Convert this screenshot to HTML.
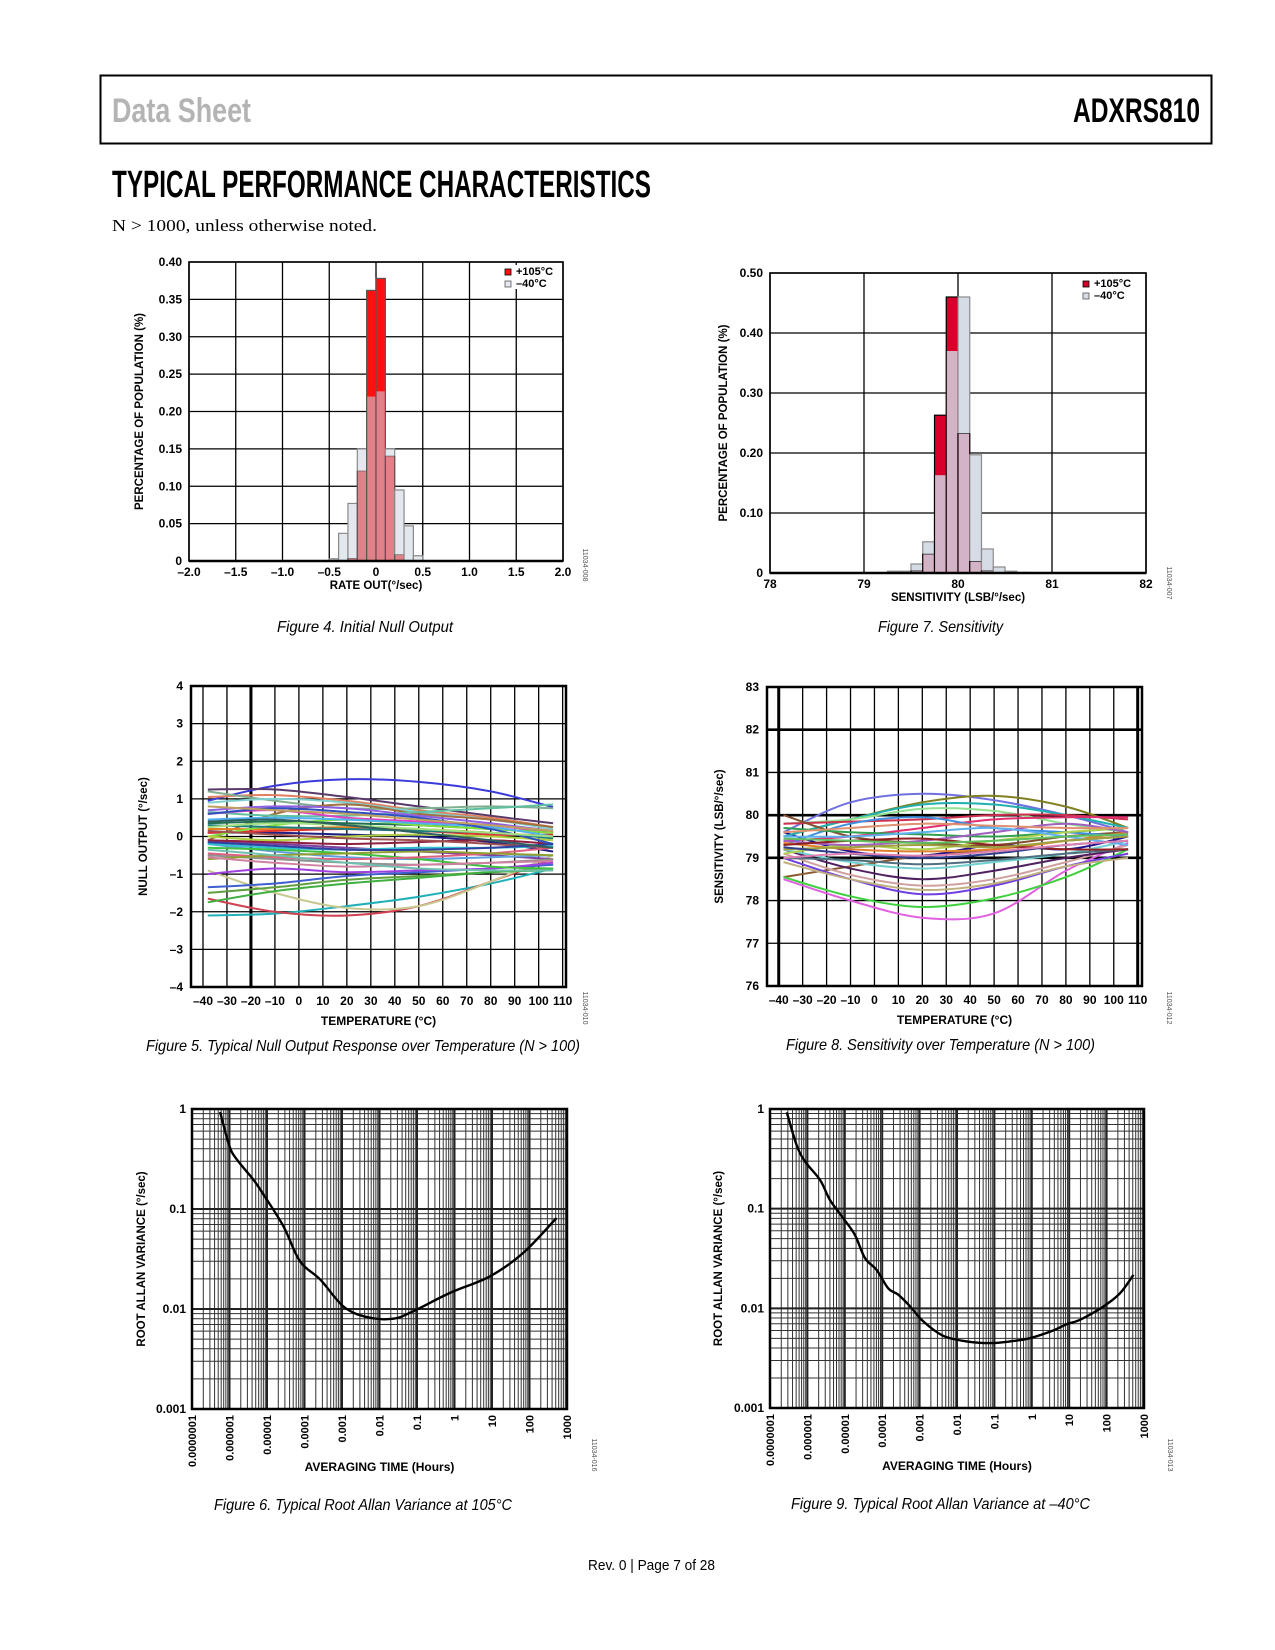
<!DOCTYPE html>
<html><head><meta charset="utf-8"><style>
html,body{margin:0;padding:0;background:#fff}
svg{display:block}
.ax{font-family:"Liberation Sans",Arial,sans-serif;font-weight:bold;fill:#000}
.cap{font-family:"Liberation Sans Narrow","Liberation Sans",sans-serif;font-style:italic;fill:#000}
.hd{font-family:"Liberation Sans Narrow","Liberation Sans",sans-serif;font-weight:bold}
</style></head><body>
<svg id="pg" xmlns="http://www.w3.org/2000/svg" width="1275" height="1650" viewBox="0 0 1275 1650">
<rect x="100.5" y="75.5" width="1111" height="68" fill="none" stroke="#000" stroke-width="2"/>
<text class="hd" x="112" y="122" font-size="34" fill="#b4b4b4" textLength="139" lengthAdjust="spacingAndGlyphs">Data Sheet</text>
<text class="hd" x="1073" y="122" font-size="34" fill="#000" textLength="127" lengthAdjust="spacingAndGlyphs">ADXRS810</text>
<text class="hd" x="112" y="197" font-size="38" fill="#000" textLength="539" lengthAdjust="spacingAndGlyphs">TYPICAL PERFORMANCE CHARACTERISTICS</text>
<text x="112" y="231" font-family="'Liberation Serif',serif" font-size="17" textLength="265" lengthAdjust="spacingAndGlyphs">N &gt; 1000, unless otherwise noted.</text>

<text class="cap" x="277" y="632" font-size="16" textLength="176" lengthAdjust="spacingAndGlyphs">Figure 4. Initial Null Output</text>
<text class="cap" x="878" y="632" font-size="16" textLength="125" lengthAdjust="spacingAndGlyphs">Figure 7. Sensitivity</text>
<text class="cap" x="146" y="1051" font-size="16" textLength="434" lengthAdjust="spacingAndGlyphs">Figure 5. Typical Null Output Response over Temperature (N &gt; 100)</text>
<text class="cap" x="786" y="1050" font-size="16" textLength="309" lengthAdjust="spacingAndGlyphs">Figure 8. Sensitivity over Temperature (N &gt; 100)</text>
<text class="cap" x="214" y="1510" font-size="16" textLength="298" lengthAdjust="spacingAndGlyphs">Figure 6. Typical Root Allan Variance at 105°C</text>
<text class="cap" x="791" y="1509" font-size="16" textLength="299" lengthAdjust="spacingAndGlyphs">Figure 9. Typical Root Allan Variance at –40°C</text>
<text x="588" y="1570" font-family="'Liberation Sans Narrow','Liberation Sans',sans-serif" font-size="15" textLength="127" lengthAdjust="spacingAndGlyphs">Rev. 0 | Page 7 of 28</text>
</svg>
<script>
// ===== Figure 4 data =====
const f4Bins = [-0.5,-0.4,-0.3,-0.2,-0.1,0,0.1,0.2,0.3,0.4];
const f4Hot = [0,0,0.003,0.12,0.362,0.378,0.14,0.008,0,0];
const f4Cold = [0.003,0.037,0.077,0.15,0.22,0.227,0.15,0.095,0.047,0.007];
const f4XTicks = ["–2.0","–1.5","–1.0","–0.5","0","0.5","1.0","1.5","2.0"];
const f4YTicks = ["0","0.05","0.10","0.15","0.20","0.25","0.30","0.35","0.40"];
// ===== Figure 7 data =====
const f7Bins = [79.25,79.375,79.5,79.625,79.75,79.875,80,80.125,80.25,80.375,80.5,80.625];
const f7Hot = [0,0,0.003,0.031,0.263,0.46,0.232,0.019,0.003,0,0,0];
const f7Cold = [0.003,0.003,0.015,0.052,0.163,0.37,0.46,0.197,0.04,0.01,0.003,0.001];
const f7XTicks = ["78","79","80","81","82"];
const f7YTicks = ["0","0.10","0.20","0.30","0.40","0.50"];
// ===== Figure 5 data =====
const tempPts = [-38,-10,20,50,80,106];
const tempTicks = ["–40","–30","–20","–10","0","10","20","30","40","50","60","70","80","90","100","110"];
const f5YTicks = ["–4","–3","–2","–1","0","1","2","3","4"];
const f5Colors = ["#3b3bdb","#5a3a6a","#20b0b8","#d04050","#c8c890","#4060d0","#60a040","#40b040","#a040e0","#e08060","#80b090","#80d0d0","#a07040","#60c0a0","#202080","#e040c0","#207050","#e08020","#e03030","#80e040","#8040a0","#60a0e0","#40c040","#e06080","#909090","#30c0d0","#208080","#9060e0","#90a030","#902040","#50b0f0","#b0d040","#d080a0","#3050c0","#70c0b0","#a05050","#a0e080","#3040a0","#c0a060","#306060"];
const f5Series = [
[0.95,1.35,1.52,1.45,1.2,0.78],[1.25,1.25,1.05,0.8,0.55,0.35],[-2.1,-2.05,-1.85,-1.6,-1.25,-0.85],
[-1.65,-2.0,-2.1,-1.85,-1.2,-0.6],[-0.9,-1.5,-1.9,-1.85,-1.2,-0.5],[-1.35,-1.25,-1.05,-0.95,-0.85,-0.75],
[-1.5,-1.35,-1.15,-1.05,-0.95,-0.85],[-1.75,-1.45,-1.25,-1.1,-0.95,-0.9],[-1.0,-0.85,-0.95,-0.9,-0.85,-0.7],
[1.05,1.1,0.95,0.7,0.5,0.25],[1.2,0.95,0.75,0.75,0.8,0.75],[0.9,1.0,0.9,0.65,0.45,0.2],
[-0.1,0.6,0.85,0.6,0.45,0.25],[0.65,0.55,0.55,0.65,0.75,0.85],[0.1,0.1,0.05,0.0,-0.15,-0.4],
[0.6,0.7,0.5,0.4,0.3,0.1],[0.35,0.4,0.35,0.3,0.2,0.1],[0.2,0.2,0.25,0.2,0.1,0.0],
[0.1,0.15,0.2,0.15,0.05,0.05],[0.0,0.3,0.45,0.3,0.2,0.1],[-0.15,-0.2,-0.3,-0.4,-0.5,-0.6],
[-0.2,-0.4,-0.55,-0.6,-0.55,-0.5],[-0.3,-0.35,-0.45,-0.6,-0.8,-0.85],[-0.45,-0.55,-0.6,-0.55,-0.45,-0.3],
[-0.5,-0.6,-0.7,-0.75,-0.7,-0.6],[-0.2,-0.3,-0.35,-0.3,-0.3,-0.25],[0.3,0.25,0.2,0.15,0.1,-0.05],
[0.7,0.8,0.75,0.55,0.35,0.15],[-0.6,-0.5,-0.45,-0.4,-0.45,-0.5],[-0.1,-0.15,-0.2,-0.15,-0.1,-0.2],
[0.45,0.5,0.45,0.35,0.25,0.0],[0.0,-0.1,0.0,0.05,0.0,-0.1],[-0.55,-0.7,-0.8,-0.75,-0.7,-0.65],
[0.6,0.75,0.65,0.5,0.2,-0.2],[-0.35,-0.5,-0.7,-0.85,-0.9,-0.9],[0.15,0.05,-0.05,-0.1,-0.2,-0.3],
[0.25,0.35,0.3,0.2,0.1,0.0],[-0.15,-0.25,-0.35,-0.35,-0.3,-0.2],[0.8,0.7,0.6,0.45,0.3,0.15],
[0.4,0.45,0.3,0.1,-0.1,-0.3]];
// ===== Figure 8 data =====
const f8YTicks = ["76","77","78","79","80","81","82","83"];
const f8Colors = ["#7070e0","#808020","#8a5a30","#e060e0","#40d040","#7040e0","#c0b080","#d0a0a0","#502060","#201090","#20b0b0","#90e090","#d03050","#e03070","#805030","#4090e0","#70d0d0","#507080","#e08030","#30a050","#b0d050","#a060c0","#902020","#60b0f0","#a0a040","#304090","#e09070","#60c060","#e080b0"];
const f8Series = [
[79.6,80.3,80.5,80.35,80.0,79.6],[79.5,79.9,80.3,80.45,80.2,79.7],[78.55,78.8,79.05,79.2,79.4,79.5],
[78.5,78.0,77.6,77.7,78.7,79.35],[78.55,78.1,77.85,78.05,78.55,79.2],[79.0,78.5,78.15,78.35,78.8,79.1],
[78.9,78.5,78.25,78.4,78.8,79.0],[79.1,78.6,78.35,78.5,78.9,79.3],[79.2,78.75,78.5,78.7,79.0,79.2],
[79.6,79.15,79.05,79.3,79.2,79.5],[79.5,79.9,80.25,80.25,80.0,79.7],[79.8,79.9,80.15,80.1,79.8,79.6],
[79.8,79.85,79.9,80.0,80.0,79.9],[79.4,79.5,79.7,79.9,79.95,79.95],[80.0,79.5,79.35,79.3,79.5,79.6],
[79.3,79.8,79.95,79.7,79.6,79.5],[79.2,78.9,78.75,78.9,79.1,79.4],[79.0,78.95,78.85,78.95,79.1,79.2],
[79.35,79.2,79.15,79.2,79.4,79.6],[79.7,79.6,79.55,79.5,79.6,79.7],[79.1,79.3,79.2,79.4,79.6,79.7],
[79.4,79.3,79.4,79.6,79.8,79.6],[79.3,79.4,79.45,79.3,79.2,79.2],[79.5,79.5,79.6,79.7,79.5,79.3],
[79.2,79.25,79.3,79.25,79.4,79.5],[79.25,79.1,79.0,79.1,79.3,79.4],[79.6,79.7,79.8,79.75,79.7,79.7],
[79.45,79.4,79.35,79.4,79.5,79.55],[79.0,79.1,79.05,79.15,79.3,79.4]];
// ===== Figure 6 / 9 data (log10 hours, deg/sec) =====
const f6LogT = [-6.25,-6.0,-5.8,-5.36,-5.09,-4.56,-4.12,-3.58,-2.96,-2.34,-1.63,-1.1,-0.12,0.94,1.83,2.72];
const f6Var = [0.933,0.424,0.311,0.196,0.139,0.067,0.030,0.0197,0.0106,0.0083,0.0080,0.0095,0.0145,0.0212,0.0363,0.0813];
const f9LogT = [-6.55,-6.29,-6.06,-5.66,-5.4,-5.04,-4.73,-4.46,-4.15,-3.84,-3.57,-3.26,-2.9,-2.37,-1.74,-1.12,-0.58,-0.05,0.58,0.93,1.29,1.91,2.36,2.72];
const f9Var = [0.926,0.435,0.296,0.194,0.123,0.080,0.0546,0.0319,0.0243,0.0159,0.0137,0.0105,0.0074,0.0053,0.00466,0.00448,0.00466,0.00502,0.006,0.00693,0.00767,0.0104,0.0142,0.0217];
const allanXTicks = ["0.0000001","0.000001","0.00001","0.0001","0.001","0.01","0.1","1","10","100","1000"];
const allanYTicks = ["0.001","0.01","0.1","1"];

const NS = "http://www.w3.org/2000/svg";
const pg = document.getElementById("pg");
function mk(tag, attrs, parent){const e=document.createElementNS(NS,tag);for(const k in attrs)e.setAttribute(k,attrs[k]);(parent||pg).appendChild(e);return e;}
function lin(d0,d1,r0,r1){return v=>r0+(v-d0)*(r1-r0)/(d1-d0);}
function smooth(pts){let d="M"+pts[0][0]+","+pts[0][1];for(let i=0;i<pts.length-1;i++){const p0=pts[i-1]||pts[i],p1=pts[i],p2=pts[i+1],p3=pts[i+2]||p2;const c1=[p1[0]+(p2[0]-p0[0])/6,p1[1]+(p2[1]-p0[1])/6],c2=[p2[0]-(p3[0]-p1[0])/6,p2[1]-(p3[1]-p1[1])/6];d+=" C"+c1+" "+c2+" "+p2;}return d;}
function label(g,x,y,txt,size,anchor,name,rot){const t=mk("text",{x:x,y:y,"font-size":size,"text-anchor":anchor||"middle",class:"ax"},g);if(rot)t.setAttribute("transform","rotate("+rot+" "+x+" "+y+")");t.textContent=txt;


return t;}
function figId(x,y,txt){const t=mk("text",{x:x,y:y,"font-size":7,"text-anchor":"middle",fill:"#555","font-family":"Liberation Sans, sans-serif",transform:"rotate(90 "+x+" "+y+")"});t.textContent=txt;

}

// ===== Histogram =====
function hist(P,xd,yd,bins,w,hot,cold,cols,xt,yt,xTitle,yTitle,leg,gname){
  const g=mk("g",{});
  
  
  const X=lin(xd[0],xd[1],P.x0,P.x1),Y=lin(yd[0],yd[1],P.y1,P.y0);
  xt.forEach((t,i)=>{const x=P.x0+i*(P.x1-P.x0)/(xt.length-1);const l=mk("line",{x1:x,x2:x,y1:P.y0,y2:P.y1,stroke:"#000","stroke-width":1.3},g);
    
    
    label(g,x,P.y1+15,t,12,"middle","x-tick-label");});
  yt.forEach((t,i)=>{const y=P.y1-i*(P.y1-P.y0)/(yt.length-1);const l=mk("line",{x1:P.x0,x2:P.x1,y1:y,y2:y,stroke:"#000","stroke-width":1.3},g);
    
    
    label(g,P.x0-7,y+4,t,12,"end","y-tick-label");});
  bins.forEach((b,i)=>{const x=X(b),bw=X(b+w)-X(b);const h=hot[i],c=cold[i];
    if(c>0){const r=mk("rect",{x:x,y:Y(c),width:bw,height:Y(0)-Y(c),fill:cols.cold,stroke:"#8a8a8a","stroke-width":1.2},g);
      
      }
    if(h>0){const r=mk("rect",{x:x,y:Y(h),width:bw,height:Y(0)-Y(h),fill:cols.hot,stroke:cols.hotStroke,"stroke-width":1.2},g);
      
      }
    const m=Math.min(h,c);if(m>0){const r=mk("rect",{x:x+0.6,y:Y(m),width:bw-1.2,height:Y(0)-Y(m),fill:cols.both},g);
      
      }
  });
  const fr=mk("rect",{x:P.x0,y:P.y0,width:P.x1-P.x0,height:P.y1-P.y0,fill:"none",stroke:"#000","stroke-width":1.6},g);
  
  
  mk("line",{x1:P.x0,x2:P.x1,y1:P.y1,y2:P.y1,stroke:"#000","stroke-width":2.5},g);
  const lg=mk("g",{},g);
  
  
  mk("rect",{x:leg.x-3,y:leg.y-10,width:60,height:24,fill:"#fff"},lg);
  const s1=mk("rect",{x:leg.x,y:leg.y-6,width:6,height:6,fill:cols.hot,stroke:"#000","stroke-width":0.8},lg);
  
  
  label(lg,leg.x+11,leg.y,"+105°C",11,"start","legend-entry-105c");
  const s2=mk("rect",{x:leg.x,y:leg.y+6,width:6,height:6,fill:cols.cold,stroke:"#555","stroke-width":0.8},lg);
  
  
  label(lg,leg.x+11,leg.y+12,"–40°C",11,"start","legend-entry-minus40c");
  label(g,(P.x0+P.x1)/2+xTitle[1],P.y1+28,xTitle[0],11.5,"middle","x-axis-title");
  label(g,yTitle[1],(P.y0+P.y1)/2,yTitle[0],11.5,"middle","y-axis-title",-90);
}
hist({x0:189,x1:563,y0:262,y1:561},[-2,2],[0,0.4],f4Bins,0.1,f4Hot,f4Cold,{hot:"#ff1010",hotStroke:"#555",cold:"#e3e7ee",both:"#e08088"},f4XTicks,f4YTicks,["RATE OUT(°/sec)",0],["PERCENTAGE OF POPULATION (%)",143],{x:505,y:275},"figure-4-histogram");
figId(583,565,"11034-008");
hist({x0:770,x1:1146,y0:273,y1:573},[78,82],[0,0.5],f7Bins,0.125,f7Hot,f7Cold,{hot:"#d8002a",hotStroke:"#000",cold:"#d6dce6",both:"#d3b3c6"},f7XTicks,f7YTicks,["SENSITIVITY (LSB/°/sec)",0],["PERCENTAGE OF POPULATION (%)",727],{x:1083,y:287},"figure-7-histogram");
figId(1167,583,"11034-007");

// ===== Temperature line charts =====
function tempChart(P,xd,yd,yt,y0v,series,colors,yTitle,gname,thickX,thickY,titleX){
  const g=mk("g",{});
  
  
  const X=lin(xd[0],xd[1],P.x0,P.x1),Y=lin(yd[0],yd[1],P.y1,P.y0);
  tempTicks.forEach((t,i)=>{const v=-40+i*10,x=X(v);const l=mk("line",{x1:x,x2:x,y1:P.y0,y2:P.y1,stroke:"#000","stroke-width":thickX.includes(v)?3:1.3},g);
    
    
    label(g,x,P.y1+18,t,12,"middle","x-tick-label");});
  yt.forEach((t,i)=>{const v=y0v+i,y=Y(v);const l=mk("line",{x1:P.x0,x2:P.x1,y1:y,y2:y,stroke:"#000","stroke-width":thickY.includes(v)?2.6:1.3},g);
    
    
    label(g,P.x0-8,y+4,t,12,"end","y-tick-label");});
  series.forEach((s,k)=>{const pts=s.map((v,i)=>[+X(tempPts[i]).toFixed(1),+Y(v).toFixed(1)]);
    const p=mk("path",{d:smooth(pts),fill:"none",stroke:colors[k%colors.length],"stroke-width":2},g);
    
    });
  const fr=mk("rect",{x:P.x0,y:P.y0,width:P.x1-P.x0,height:P.y1-P.y0,fill:"none",stroke:"#000","stroke-width":2.5},g);
  
  
  label(g,(P.x0+P.x1)/2+titleX,P.y1+38,"TEMPERATURE (°C)",12,"middle","x-axis-title");
  label(g,yTitle[1],(P.y0+P.y1)/2,yTitle[0],11.5,"middle","y-axis-title",-90);
}
tempChart({x0:191,x1:566,y0:686,y1:987},[-45,111.4],[-4,4],f5YTicks,-4,f5Series,f5Colors,["NULL OUTPUT (°/sec)",147],"figure-5-null-vs-temp",[-20],[],0);
figId(583,1008,"11034-010");
tempChart({x0:767,x1:1142,y0:687,y1:986},[-44.9,111.8],[76,83],f8YTicks,76,f8Series,f8Colors,["SENSITIVITY (LSB/°/sec)",723],"figure-8-sensitivity-vs-temp",[-40,110],[79,80,82],0);
figId(1167,1008,"11034-012");

// ===== Allan variance log-log charts =====
function allan(P,logT,vals,gname,yTitleX,idX,idTxt){
  const g=mk("g",{});
  
  
  const X=lin(-7,3,P.x0,P.x1),Y=lin(-3,0,P.y1,P.y0);
  for(let d=-7;d<3;d++){for(let m=2;m<10;m++){const x=X(d+Math.log10(m));const l=mk("line",{x1:x,x2:x,y1:P.y0,y2:P.y1,stroke:"#333","stroke-width":1},g);
    
    }}
  for(let d=-3;d<0;d++){for(let m=2;m<10;m++){const y=Y(d+Math.log10(m));const l=mk("line",{x1:P.x0,x2:P.x1,y1:y,y2:y,stroke:"#333","stroke-width":1},g);
    
    }}
  allanXTicks.forEach((t,i)=>{const x=X(-7+i);const l=mk("line",{x1:x,x2:x,y1:P.y0,y2:P.y1,stroke:"#222","stroke-width":2},g);
    
    
    label(g,x+4,P.y1+6,t,11,"end","x-tick-label",-90);});
  allanYTicks.forEach((t,i)=>{const y=Y(-3+i);const l=mk("line",{x1:P.x0,x2:P.x1,y1:y,y2:y,stroke:"#222","stroke-width":2},g);
    
    
    label(g,P.x0-6,y+4,t,12,"end","y-tick-label");});
  const pts=logT.map((t,i)=>[+X(t).toFixed(1),+Y(Math.log10(vals[i])).toFixed(1)]);
  const p=mk("path",{d:smooth(pts),fill:"none",stroke:"#000","stroke-width":2.4},g);
  
  
  const fr=mk("rect",{x:P.x0,y:P.y0,width:P.x1-P.x0,height:P.y1-P.y0,fill:"none",stroke:"#000","stroke-width":2.5},g);
  
  
  label(g,(P.x0+P.x1)/2,P.y1+62,"AVERAGING TIME (Hours)",12,"middle","x-axis-title");
  label(g,yTitleX,(P.y0+P.y1)/2,"ROOT ALLAN VARIANCE (°/sec)",11.5,"middle","y-axis-title",-90);
  figId(idX,1455,idTxt);
}
allan({x0:192,x1:567,y0:1109,y1:1409},f6LogT,f6Var,"figure-6-allan-105c",145,592,"11034-016");
allan({x0:770,x1:1144,y0:1109,y1:1408},f9LogT,f9Var,"figure-9-allan-minus40c",722,1168,"11034-013");
</script>
</body></html>
